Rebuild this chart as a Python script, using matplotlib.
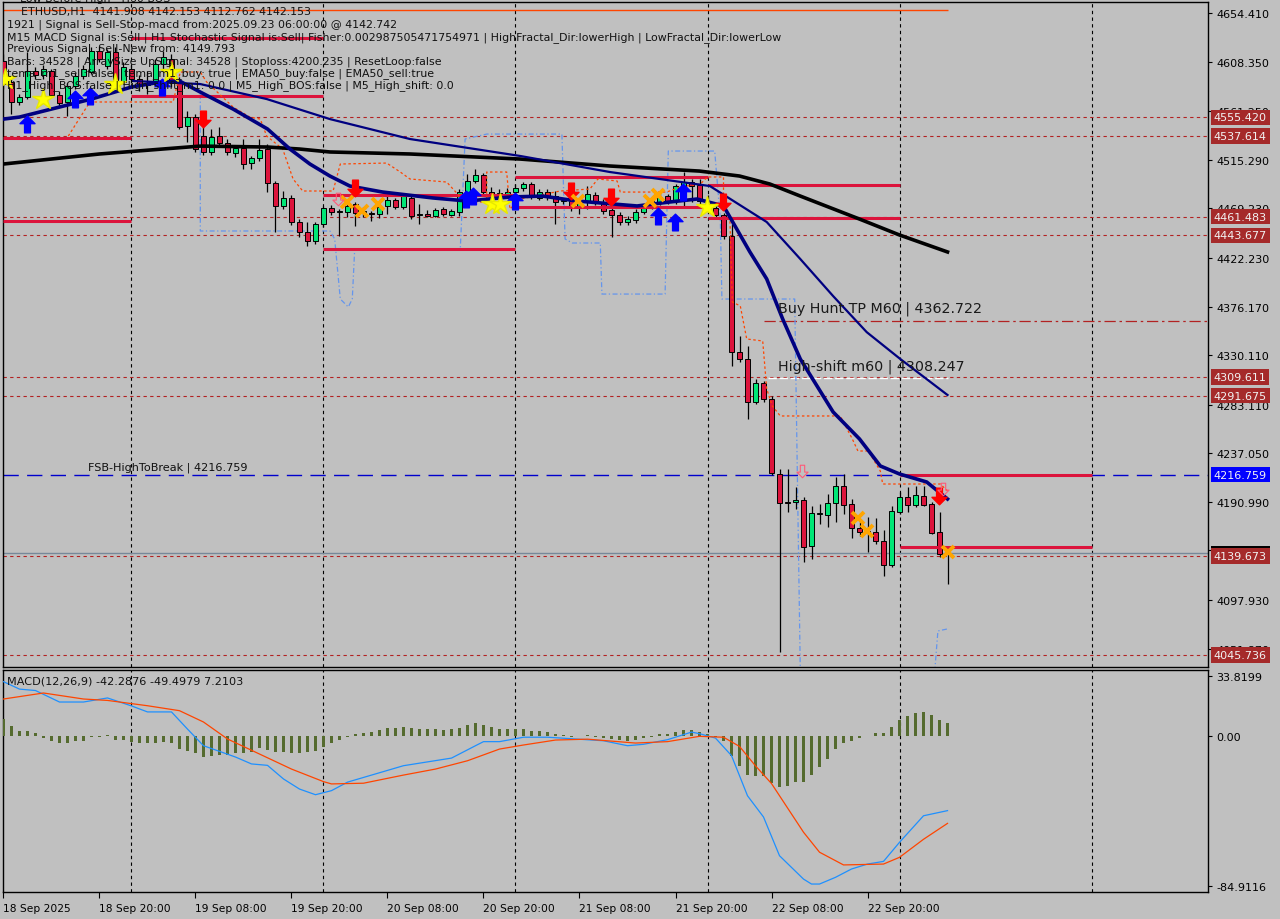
import numpy as np
import matplotlib
matplotlib.use("Agg")
import matplotlib.pyplot as plt
from matplotlib.path import Path

plt.rcParams['font.family'] = ['DejaVu Sans']

BG = '#c0c0c0'
BULL = '#00e676'
BEAR = '#dc143c'

# ---------------- price data (H1 bars, 18 Sep 08:00 -> 23 Sep 06:00) ----------------
opens = [4608.9, 4589.0, 4570.1, 4574.8, 4599.4, 4595.7, 4599.4, 4576.7, 4570.1, 4585.2,
         4594.7, 4598.5, 4618.4, 4604.2, 4617.5, 4589.0, 4601.3, 4591.9, 4586.2, 4590.0,
         4606.1, 4610.8, 4590.0, 4547.3, 4555.8, 4537.8, 4522.7, 4537.8, 4531.2, 4521.7,
         4526.4, 4512.2, 4517.0, 4525.5, 4493.3, 4471.5, 4479.1, 4456.3, 4446.8, 4438.3,
         4454.4, 4469.6, 4465.8, 4465.8, 4473.4, 4465.8, 4464.8, 4463.9, 4471.5, 4477.2,
         4470.5, 4479.1, 4462.9, 4463.9, 4462.0, 4468.6, 4462.9, 4465.8, 4484.7, 4495.2,
         4500.8, 4484.7, 4481.9, 4482.8, 4484.7, 4488.5, 4492.3, 4479.1, 4484.7, 4480.9,
         4476.2, 4476.2, 4471.5, 4475.3, 4481.9, 4475.3, 4467.7, 4462.9, 4456.3, 4458.2,
         4465.8, 4470.5, 4474.3, 4480.9, 4476.2, 4490.4, 4494.2, 4491.4, 4476.2, 4469.6,
         4462.9, 4443.0, 4333.0, 4326.4, 4285.7, 4303.7, 4288.5, 4217.4, 4190.9, 4190.9,
         4192.7, 4149.1, 4179.5, 4178.5, 4189.9, 4206.0, 4189.0, 4166.2, 4163.4, 4162.4,
         4153.9, 4131.1, 4181.4, 4195.6, 4188.0, 4196.5, 4189.0, 4162.4, 4141.908]
highs = [4615.6, 4591.9, 4577.6, 4617.5, 4603.2, 4605.1, 4601.3, 4580.5, 4588.1, 4597.5,
         4605.1, 4622.2, 4623.1, 4620.3, 4622.2, 4608.0, 4605.1, 4595.7, 4599.4, 4610.8,
         4618.4, 4615.6, 4593.8, 4561.5, 4558.7, 4546.4, 4544.5, 4546.4, 4535.0, 4529.3,
         4535.0, 4518.9, 4535.0, 4530.2, 4495.2, 4485.7, 4481.9, 4459.1, 4456.3, 4456.3,
         4471.5, 4472.4, 4468.6, 4475.3, 4475.3, 4470.5, 4466.7, 4473.4, 4480.9, 4479.1,
         4482.8, 4481.9, 4473.4, 4467.7, 4469.6, 4470.5, 4468.6, 4487.6, 4501.8, 4506.5,
         4502.7, 4489.5, 4487.6, 4488.5, 4492.3, 4494.2, 4494.2, 4487.6, 4487.6, 4485.7,
         4478.1, 4489.5, 4478.1, 4490.4, 4484.7, 4478.1, 4470.5, 4465.8, 4462.0, 4468.6,
         4472.4, 4480.0, 4483.8, 4482.8, 4492.3, 4503.7, 4497.1, 4497.1, 4481.9, 4471.5,
         4464.8, 4454.4, 4348.2, 4338.7, 4307.5, 4305.6, 4291.3, 4222.1, 4222.1, 4205.1,
         4195.6, 4187.1, 4189.0, 4198.4, 4214.6, 4217.4, 4193.7, 4171.9, 4176.6, 4175.7,
         4164.3, 4187.1, 4200.3, 4205.1, 4206.0, 4206.0, 4190.9, 4181.4, 4142.153]
lows = [4582.4, 4558.7, 4567.2, 4572.9, 4591.9, 4591.9, 4574.8, 4565.3, 4556.8, 4582.4,
        4591.9, 4596.6, 4608.0, 4601.3, 4586.2, 4587.1, 4588.1, 4580.5, 4577.6, 4586.2,
        4601.3, 4584.3, 4544.5, 4532.1, 4522.7, 4519.8, 4519.8, 4529.3, 4519.8, 4517.9,
        4506.5, 4506.5, 4514.1, 4484.7, 4446.8, 4468.6, 4453.5, 4442.1, 4433.5, 4435.4,
        4451.6, 4462.9, 4443.0, 4461.0, 4452.5, 4461.0, 4457.2, 4460.1, 4463.9, 4468.6,
        4468.6, 4459.1, 4454.4, 4461.0, 4461.0, 4462.0, 4462.0, 4462.0, 4480.9, 4493.3,
        4481.9, 4480.9, 4473.4, 4481.9, 4480.9, 4485.7, 4478.1, 4477.2, 4477.2, 4454.4,
        4473.4, 4466.7, 4463.9, 4468.6, 4472.4, 4463.9, 4442.1, 4453.5, 4453.5, 4455.4,
        4463.9, 4468.6, 4472.4, 4473.4, 4473.4, 4471.5, 4475.3, 4473.4, 4468.6, 4461.0,
        4440.2, 4319.8, 4323.6, 4269.5, 4283.8, 4285.7, 4216.5, 4048.7, 4181.4, 4184.2,
        4134.0, 4136.8, 4170.0, 4167.2, 4171.9, 4179.5, 4156.7, 4158.6, 4143.5, 4151.0,
        4120.7, 4129.2, 4179.5, 4181.4, 4186.1, 4187.1, 4160.5, 4138.7, 4112.762]
closes = [4587.1, 4570.1, 4574.8, 4599.4, 4595.7, 4601.3, 4576.7, 4569.1, 4585.2, 4594.7,
          4601.3, 4618.4, 4610.8, 4617.5, 4589.0, 4603.2, 4591.9, 4586.2, 4588.1, 4606.1,
          4612.7, 4590.0, 4546.4, 4555.8, 4525.5, 4522.7, 4536.9, 4531.2, 4522.7, 4526.4,
          4511.3, 4517.0, 4524.5, 4493.3, 4471.5, 4479.1, 4456.3, 4446.8, 4438.3, 4454.4,
          4469.6, 4465.8, 4466.7, 4471.5, 4464.8, 4466.7, 4463.9, 4470.5, 4477.2, 4470.5,
          4480.9, 4462.0, 4463.9, 4462.0, 4467.7, 4463.9, 4466.7, 4484.7, 4495.2, 4500.8,
          4484.7, 4482.8, 4483.8, 4484.7, 4488.5, 4492.3, 4480.9, 4484.7, 4480.0, 4475.3,
          4477.2, 4470.5, 4476.2, 4482.8, 4475.3, 4466.7, 4462.9, 4456.3, 4459.1, 4465.8,
          4470.5, 4476.2, 4480.0, 4475.3, 4490.4, 4494.2, 4490.4, 4476.2, 4473.4, 4462.9,
          4443.0, 4333.0, 4326.4, 4285.7, 4303.7, 4288.5, 4218.3, 4189.9, 4189.9, 4192.7,
          4148.2, 4180.4, 4180.0, 4189.9, 4206.0, 4188.0, 4166.2, 4162.4, 4161.4, 4153.9,
          4131.1, 4182.3, 4195.6, 4188.0, 4197.5, 4188.0, 4161.4, 4141.6, 4142.153]

# moving averages (bar index, price)
ema_black_x = [0, 12, 24.6, 33, 37, 40.8, 50.8, 64.6, 75.8, 87, 92, 95.8, 99.6, 107, 112, 118]
ema_black_y = [4511.3, 4520.8, 4528.3, 4527.4, 4525.5, 4522.7, 4520.8, 4516.0, 4509.4, 4504.6,
               4499.9, 4492.3, 4480.9, 4459.1, 4444.0, 4427.9]
ema_fast_x = [0, 2, 6, 11, 16, 19.6, 22, 24.6, 28.7, 33, 35.8, 38.3, 40.8, 43.3, 47.4, 53.7, 58,
              63.3, 67.4, 71.7, 79.2, 83.3, 86.7, 90, 93.3, 95.4, 97.4, 99.6, 103.7, 107, 109.6,
              112, 115.4, 118]
ema_fast_y = [4553.9, 4555.8, 4563.4, 4572.9, 4584.3, 4589.0, 4590.0, 4579.5, 4563.4, 4544.5,
              4525.5, 4511.3, 4499.9, 4490.4, 4484.7, 4479.1, 4476.2, 4480.0, 4480.9, 4476.2,
              4471.5, 4475.3, 4478.1, 4471.5, 4427.9, 4402.3, 4364.3, 4326.4, 4276.2, 4250.6,
              4225.0, 4217.4, 4209.8, 4193.7]
ema_slow_x = [16.2, 24.6, 32.9, 40.8, 50.8, 64.6, 75.8, 88.3, 95.4, 99.6, 103.7, 107.9, 112.1, 118]
ema_slow_y = [4590.0, 4587.1, 4572.9, 4553.9, 4535.0, 4518.9, 4503.7, 4490.4, 4456.3, 4421.2,
              4386.1, 4351.9, 4326.4, 4292.3]

# orange trailing (dashed) line
trail_x = [8.1, 10.8, 21.2, 22.1, 24.6, 25.4, 28.7, 30.8, 32.1, 32.9, 34.9, 36.2, 37.4, 41.2, 42.1,
           47.9, 49.6, 50.8, 55.4, 57.1, 57.9, 60.4, 60.4, 62.9, 63.3, 64.6, 69.6, 73.3, 74.3, 76.7,
           77.1, 82.9, 84.6, 87.1, 88, 90, 90, 90.8, 91.1, 92.1, 92.9, 94.9, 95.4, 96.1, 97.1, 104.6,
           106.1, 106.8, 108.1, 109.6, 109.9, 117.1, 118]
trail_y = [4537.8, 4570.1, 4570.1, 4598.5, 4598.5, 4589.0, 4565.3, 4555.8, 4553.9, 4537.8, 4525.5,
           4497.1, 4485.7, 4485.7, 4511.3, 4512.2, 4503.7, 4497.1, 4494.2, 4480.0, 4475.3, 4475.3,
           4503.7, 4503.7, 4468.6, 4478.1, 4485.7, 4487.6, 4497.1, 4495.2, 4484.7, 4484.7, 4489.5,
           4492.3, 4499.0, 4499.0, 4475.3, 4459.1, 4380.5, 4376.7, 4345.4, 4343.5, 4298.0, 4281.9,
           4272.4, 4272.4, 4250.6, 4239.2, 4239.2, 4220.2, 4207.9, 4207.9, 4201.3]

# light blue channel (dashed)
chan_x = [24.6, 24.6, 40.8, 41.4, 42.1, 43.1, 43.6, 43.9, 57.1, 57.7, 60.4, 69.8, 70.2, 71.1, 74.6,
          74.8, 82.7, 83.1, 88.9, 89.6, 89.8, 98.9, 99.6, np.nan, 116.4, 116.8, 118]
chan_y = [4577.6, 4447.8, 4447.8, 4440.2, 4383.3, 4375.7, 4383.3, 4430.7, 4430.7, 4535.0, 4539.7,
          4539.7, 4440.2, 4436.4, 4436.4, 4388.0, 4388.0, 4523.6, 4523.6, 4459.1, 4383.3, 4383.3,
          4030.0, np.nan, 4030.0, 4068.6, 4070.5]

# daily high / low segments
day_start = [-0.06, 16, 40, 64, 88, 112]
day_end = [16, 40, 64, 88, 112, 136]
day_hi = [4536.0, 4630.7, 4481.9, 4499.0, 4491.4, 4216.5]
day_lo = [4457.5, 4575.7, 4430.7, 4470.5, 4460.1, 4148.2]

levels = [4555.420, 4537.614, 4461.483, 4443.677, 4309.611, 4291.675, 4139.673, 4045.736]
fsb_level = 4216.759
buy_tp = 4362.722
high_shift = 4308.247
bid = 4142.153
top_line = 4657.3

# signal markers
up_x = [2.9, 8.9, 10.8, 19.8, 57.8, 58.7, 63.9, 81.8, 83.9, 84.9]
up_y = [4549.2, 4572.9, 4575.7, 4584.3, 4478.1, 4480.9, 4476.2, 4462.0, 4456.3, 4484.7]
dn_x = [24.9, 43.9, 70.9, 75.9, 89.9, 116.9]
dn_y = [4553.9, 4488.5, 4485.7, 4480.0, 4475.3, 4196.5]
star_x = [0.2, 4.9, 13.9, 20.9, 61.1, 62.1, 87.9]
star_y = [4591.9, 4572.9, 4587.1, 4598.5, 4473.4, 4473.4, 4470.5]
cross_x = [42.9, 44.8, 46.8, 71.8, 80.8, 81.8, 106.8, 107.9, 118]
cross_y = [4475.3, 4466.7, 4473.4, 4476.2, 4476.2, 4481.9, 4175.7, 4163.4, 4143.5]
hollow_x = [41.8, 99.8, 117.4]
hollow_y = [4478.1, 4220.2, 4203.2]

# MACD(12,26,9)
macd_hist = [9.4, 5.5, 2.6, 2.6, 1.7, -1.1, -3.0, -4.0, -4.0, -3.0,
             -3.0, -0.6, -0.6, 0.4, -2.1, -2.5, -3.6, -4.3, -4.3, -4.0,
             -3.6, -4.0, -7.5, -8.5, -10.0, -11.9, -11.5, -10.9, -10.9, -9.6,
             -9.6, -9.1, -6.8, -8.1, -9.1, -9.1, -10.0, -10.0, -9.1, -8.7,
             -6.2, -4.0, -2.1, -0.6, 0.9, 1.7, 2.3, 3.2, 4.2, 4.2,
             4.7, 4.2, 3.6, 3.6, 3.6, 3.2, 3.6, 4.5, 6.0, 7.0,
             6.0, 4.7, 3.6, 3.6, 3.6, 3.6, 2.6, 2.6, 2.1, 0.9,
             0.4, -0.4, -0.2, 0.4, -0.4, -1.1, -1.9, -2.5, -2.8, -2.5,
             -1.1, -0.4, 0.9, 0.9, 2.1, 3.2, 3.2, 2.1, 0.9, -0.4,
             -2.8, -11.5, -17.2, -22.3, -22.8, -22.8, -26.6, -28.9, -28.5, -26.0,
             -26.0, -22.3, -17.5, -13.2, -7.5, -4.0, -2.8, -1.1, 0.0, 1.7,
             1.7, 5.1, 8.9, 11.1, 13.0, 13.6, 11.7, 8.9, 7.2]
macd_x = [0, 2, 4, 7, 10, 13, 16, 18, 21, 23, 25, 29, 31, 33, 35, 37, 39, 41, 43, 50, 56, 59, 60,
          62, 65, 68, 75, 78, 80, 83, 86, 87, 89, 91, 93, 95, 97, 100, 101, 102, 104, 106, 108,
          110, 112, 115, 118]
macd_main = [30.6, 26.4, 25.6, 19.1, 19.1, 21.4, 16.9, 13.5, 13.5, 3.8, -5.6, -12.0, -15.9, -16.7,
             -24.4, -30.1, -33.3, -31.0, -26.2, -16.9, -12.6, -5.6, -3.3, -3.3, -0.8, -0.8, -2.8,
             -5.6, -4.8, -2.2, 2.1, 1.2, -1.3, -11.2, -33.9, -45.9, -67.8, -81.0, -83.8, -83.8,
             -80.0, -75.3, -72.5, -71.0, -60.2, -45.2, -42.3]
sig_x = [0, 5, 10, 13, 18, 22, 25, 28, 32, 36, 40, 41, 45, 50, 54, 58, 62, 65, 69, 73, 79, 83, 87,
         90, 92, 94, 96, 100, 102, 105, 110, 112, 115, 118]
macd_signal = [20.8, 24.2, 20.8, 20.0, 17.0, 14.2, 7.8, -1.8, -10.3, -18.8, -25.9, -27.2, -26.8,
               -22.2, -18.8, -14.1, -7.5, -5.2, -2.4, -1.9, -4.1, -3.3, -0.3, -0.8, -6.0, -17.0,
               -27.0, -54.5, -65.8, -73.0, -72.5, -68.7, -58.5, -49.5]

price_ticks = [4654.41, 4608.35, 4561.25, 4515.29, 4469.23, 4422.23, 4376.17, 4330.11, 4283.11,
               4237.05, 4190.99, 4144.93, 4097.93, 4051.87]
time_ticks = [0, 12, 24, 36, 48, 60, 72, 84, 96, 108]
time_labels = ['18 Sep 2025', '18 Sep 20:00', '19 Sep 08:00', '19 Sep 20:00', '20 Sep 08:00',
               '20 Sep 20:00', '21 Sep 08:00', '21 Sep 20:00', '22 Sep 08:00', '22 Sep 20:00']

# ---------------- figure ----------------
fig = plt.figure(figsize=(12.8, 9.2), dpi=100, facecolor=BG)
ax = fig.add_axes([3 / 1280, 1 - 668 / 920, 1205 / 1280, 665 / 920], facecolor=BG)
ax2 = fig.add_axes([3 / 1280, 1 - 893 / 920, 1205 / 1280, 222 / 920], facecolor=BG)

XMIN, XMAX = -0.06, 150.56
for a in (ax, ax2):
    a.set_xlim(XMIN, XMAX)
    for s in a.spines.values():
        s.set_color('black')
        s.set_linewidth(1)
    for g in [16, 40, 64, 88, 112, 136]:
        a.axvline(g, color='black', ls=(0, (3, 3)), lw=0.8, zorder=1)
ax.set_ylim(4034.4, 4664.9)
ax2.set_ylim(-88.3, 37.2)

# candles
idx = np.arange(len(closes))
o = np.array(opens); h = np.array(highs); l = np.array(lows); c = np.array(closes)
up = c >= o
ax.vlines(idx, l, h, color='black', lw=0.9, zorder=3)
ax.bar(idx, np.abs(c - o), bottom=np.minimum(o, c), width=0.62,
       color=np.where(up, BULL, BEAR), edgecolor='black', linewidth=0.7, zorder=4)

# levels
for v in levels:
    ax.axhline(v, color='#b22222', ls=(0, (3, 3)), lw=0.8, zorder=2)
ax.axhline(fsb_level, color='#0000cd', ls=(0, (11, 6)), lw=1.0, zorder=2)
ax.axhline(bid, color='#778899', lw=1.0, zorder=2)
ax.hlines(buy_tp, 95, XMAX, color='#b22222', ls=(0, (9, 3, 2, 3)), lw=0.9, zorder=2)
ax.hlines(high_shift, 95.5, 118, color='white', ls=(0, (6, 2)), lw=1.0, zorder=2)
ax.hlines(top_line, 0, 118, color='#ff4500', lw=1.0, zorder=2)
ax.hlines(day_hi, day_start, day_end, color=BEAR, lw=2.2, zorder=5)
ax.hlines(day_lo, day_start, day_end, color=BEAR, lw=2.2, zorder=5)

ax.plot(chan_x, chan_y, color='#6495ed', ls=(0, (4, 2, 1, 2)), lw=0.9, zorder=2)
ax.plot(trail_x, trail_y, color='#ff4500', ls=(0, (2, 2)), lw=0.9, zorder=5)
ax.plot(ema_black_x, ema_black_y, color='black', lw=2.6, zorder=5)
ax.plot(ema_slow_x, ema_slow_y, color='#000080', lw=1.6, zorder=5)
ax.plot(ema_fast_x, ema_fast_y, color='#000080', lw=2.6, zorder=5)

# markers
arrow_up = Path([(0, 1), (-0.9, 0.1), (-0.35, 0.1), (-0.35, -1), (0.35, -1), (0.35, 0.1), (0.9, 0.1), (0, 1)],
                [Path.MOVETO] + [Path.LINETO] * 6 + [Path.CLOSEPOLY])
arrow_dn = Path([(x, -y) for x, y in arrow_up.vertices], arrow_up.codes)
ax.plot(up_x, up_y, ls='none', marker=arrow_up, ms=12, mfc='#0000ff', mec='#0000ff', zorder=6)
ax.plot(dn_x, dn_y, ls='none', marker=arrow_dn, ms=12, mfc='#ff0000', mec='#ff0000', zorder=6)
ax.plot(star_x, star_y, ls='none', marker='*', ms=16, mfc='#ffff00', mec='#e8e800', zorder=6)
ax.plot(cross_x, cross_y, ls='none', marker='x', ms=9, mew=2.8, color='#ffa500', zorder=6)
ax.plot(hollow_x, hollow_y, ls='none', marker=arrow_dn, ms=9, mfc='none', mec='#ff5a78', mew=0.8, zorder=6)

# right price scale
ax.yaxis.tick_right()
ax.set_yticks(price_ticks)
ax.set_yticklabels([f'{v:.3f}' for v in price_ticks])
ax.tick_params(axis='y', direction='out', length=3, pad=3, labelsize=8, colors='black')
ax.set_xticks([])


def price_box(v, fc, tc='#f2f2f2', z=8):
    ax.text(1.0048, v, f'{v:.3f}', transform=ax.get_yaxis_transform(), fontsize=8, color=tc,
            va='center', ha='left', zorder=z, clip_on=False,
            bbox=dict(boxstyle='square,pad=0.25', fc=fc, ec='none'))


price_box(bid, 'black', z=8)
for v in levels:
    price_box(v, '#a52a2a', z=9)
price_box(fsb_level, '#0000ff', z=9)

# MACD panel
ax2.bar(idx, macd_hist, width=0.38, color='#556b2f', zorder=3)
ax2.plot(macd_x, macd_main, color='#1e90ff', lw=0.9, zorder=4)
ax2.plot(sig_x, macd_signal, color='#ff4500', lw=0.9, zorder=4)
ax2.yaxis.tick_right()
ax2.set_yticks([33.8199, 0.0, -84.9116])
ax2.set_yticklabels(['33.8199', '0.00', '-84.9116'])
ax2.tick_params(axis='y', direction='out', length=3, pad=3, labelsize=8)
ax2.set_xticks(time_ticks)
ax2.set_xticklabels(time_labels, ha='left', fontsize=7.7)
ax2.tick_params(axis='x', direction='out', length=4, pad=4)


# texts
def ftext(x, y, s, size=7.9, color='#111111'):
    fig.text(x / 1280, 1 - y / 920, s, fontsize=size, color=color, va='center', ha='left', zorder=10)


ftext(20, -1, 'Low Before High - H60 BOS')
ftext(21, 12.5, 'ETHUSD,H1  4141.908 4142.153 4112.762 4142.153')
ftext(7, 25, '1921 | Signal is Sell-Stop-macd from:2025.09.23 06:00:00 @ 4142.742')
ftext(7, 37.5, 'M15 MACD Signal is:Sell | H1 Stochastic Signal is:Sell| Fisher:0.002987505471754971 | '
               'HighFractal_Dir:lowerHigh | LowFractal_Dir:lowerLow')
ftext(7, 49.5, 'Previous Signal :Sell-New from: 4149.793')
ftext(7, 61.5, 'Bars: 34528 | ArraySize UpSignal: 34528 | Stoploss:4200.235 | ResetLoop:false')
ftext(7, 73.5, 'tema_m1_sell:false | tema_m1_buy: true | EMA50_buy:false | EMA50_sell:true')
ftext(7, 85.5, 'H1_High_BOS:false | High_shift_m1: 0.0 | M5_High_BOS:false | M5_High_shift: 0.0')
ftext(88, 468, 'FSB-HighToBreak | 4216.759', size=8.1)
ftext(778, 309, 'Buy Hunt TP M60 | 4362.722', size=10.3, color='#1a1a1a')
ftext(778, 367, 'High-shift m60 | 4308.247', size=10.3, color='#1a1a1a')
ftext(7, 682, 'MACD(12,26,9) -42.2876 -49.4979 7.2103', size=8.1)

fig.savefig('out.png', dpi=100, facecolor=BG)
